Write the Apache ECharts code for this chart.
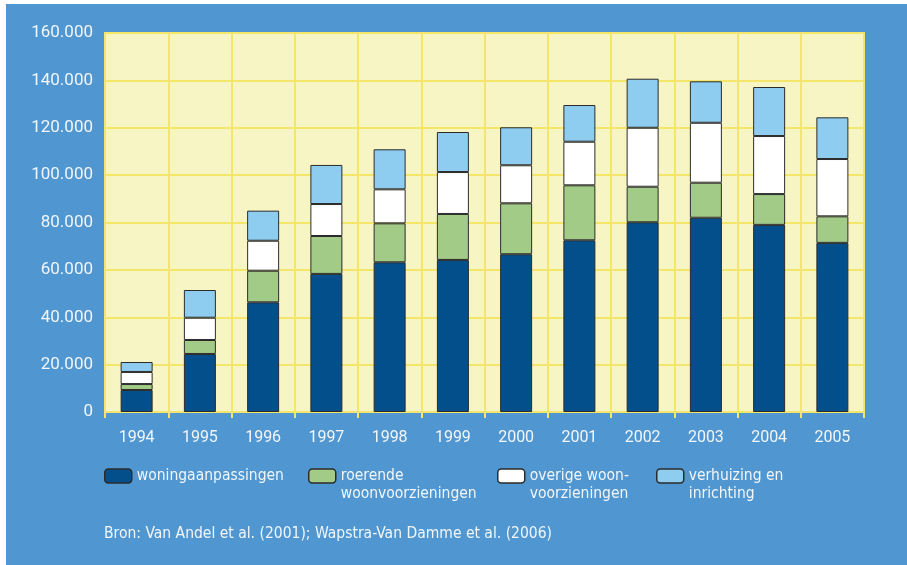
<!DOCTYPE html>
<html>
<head>
<meta charset="utf-8">
<script src="https://cdn.jsdelivr.net/npm/echarts@6/dist/echarts.min.js"></script>
<style>
  html, body { margin: 0; padding: 0; background: #ffffff; }
  #chart { position: absolute; left: 6px; top: 4px; width: 901px; height: 561px; }
</style>
</head>
<body>
<div id="chart"></div>
<script>
// jaren
const years = ["1994", "1995", "1996", "1997", "1998", "1999", "2000", "2001", "2002", "2003", "2004", "2005"];

const woningaanpassingen = [9300, 24500, 46300, 58300, 63200, 64200, 66600, 72500, 80100, 82000, 79000, 71400];
const roerende = [2500, 5900, 13350, 16000, 16450, 19400, 21500, 23200, 15000, 14800, 13000, 11200];
const overige = [5100, 9400, 12650, 13500, 14350, 17700, 16050, 18400, 24900, 25300, 24500, 24200];
const verhuizing = [4200, 11700, 12700, 16500, 16900, 16900, 16050, 15500, 20700, 17500, 20700, 17600];

const yTicks = [0, 20000, 40000, 60000, 80000, 100000, 120000, 140000, 160000];

const names = ["woningaanpassingen", "roerende woonvoorzieningen", "overige woon-voorzieningen", "verhuizing en inrichting"];
// lege eerste regel zodat de eerste tekstregel op hoogte van het blokje staat
const legendText = {
  "woningaanpassingen": "\nwoningaanpassingen\n",
  "roerende woonvoorzieningen": "\nroerende\nwoonvoorzieningen",
  "overige woon-voorzieningen": "\noverige woon-\nvoorzieningen",
  "verhuizing en inrichting": "\nverhuizing en\ninrichting"
};
const colors = ["#034f8c", "#a2cb87", "#ffffff", "#8ecdf0"];
const values = [woningaanpassingen, roerende, overige, verhuizing];

const yellow = "#f3e66a";
const txt = "#f2f6fa";
const narrow = "'DejaVu Sans Condensed', sans-serif";

const chart = echarts.init(document.getElementById("chart"));

function fmt(v) {
  return String(v).replace(/\B(?=(\d{3})+(?!\d))/g, ".");
}

const legendLeft = [98, 302, 491, 650];

const option = {
  backgroundColor: "#5096d0",
  animation: false,
  title: {
    text: "Bron: Van Andel et al. (2001); Wapstra-Van Damme et al. (2006)",
    left: 93,
    top: 517,
    textStyle: { color: txt, fontFamily: narrow, fontSize: 15.5, fontWeight: "normal" }
  },
  legend: names.map((n, i) => ({
    data: [n],
    left: legendLeft[i],
    top: 445,
    padding: 0,
    itemWidth: 27,
    itemHeight: 14,
    itemGap: 10,
    selectedMode: false,
    formatter: (name) => legendText[name],
    itemStyle: { borderColor: "#2b2b2b", borderWidth: 1.5 },
    textStyle: {
      color: txt,
      fontFamily: narrow,
      fontSize: 15.5,
      lineHeight: 18
    }
  })),
  grid: {
    left: 99,
    top: 29,
    width: 759,
    height: 379,
    show: true,
    backgroundColor: "#f8f5c4",
    borderColor: yellow,
    borderWidth: 2
  },
  xAxis: {
    type: "category",
    data: years,
    axisLine: { lineStyle: { color: yellow, width: 2 } },
    axisTick: { show: true, length: 6, lineStyle: { color: yellow, width: 2 } },
    splitLine: { show: true, lineStyle: { color: yellow, width: 2 } },
    axisLabel: { color: txt, fontSize: 16, margin: 18, fontFamily: "Roboto, sans-serif" }
  },
  yAxis: {
    type: "value",
    min: yTicks[0],
    max: yTicks[yTicks.length - 1],
    interval: 20000,
    axisLine: { show: false },
    axisTick: { show: false },
    splitLine: { lineStyle: { color: yellow, width: 2 } },
    axisLabel: { color: txt, fontSize: 17, margin: 12, fontFamily: "Roboto, sans-serif", formatter: fmt }
  },
  series: names.map((n, i) => ({
    name: n,
    type: "bar",
    stack: "totaal",
    barWidth: 32,
    data: values[i],
    itemStyle: { color: colors[i], borderColor: "#2b2b2b", borderWidth: 1 }
  }))
};

chart.setOption(option);
</script>
</body>
</html>
